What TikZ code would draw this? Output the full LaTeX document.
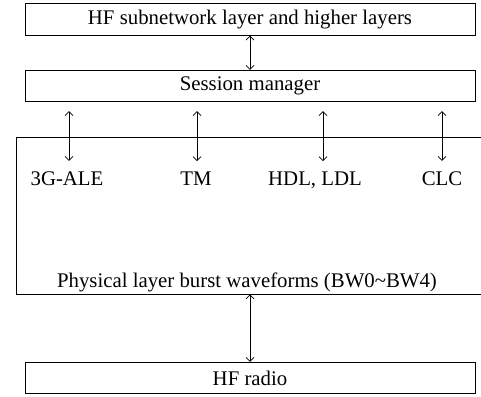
\documentclass[tikz,border=0pt]{standalone}
\usepackage{fontspec}
\setmainfont{Liberation Serif}
\usetikzlibrary{arrows.meta}
\tikzstyle{layer}=[draw, minimum width=450, minimum height=31.5, inner sep=0]
\tikzstyle{proto}=[inner sep=0, anchor=base]
\tikzstyle{twoway}=[{Straight Barb[length=4,width=8]}-{Straight Barb[length=4,width=8]}]

\begin{document}
\begin{tikzpicture}[x=1pt, y=-1pt, line width=0.7pt, font=\fontsize{20.8}{24}\selectfont]
\useasboundingbox (0,0) rectangle (481,396);
% Layers
    \node[layer] (upper) at (250,19.5) {HF subnetwork layer and higher layers};
    \node[layer] (sm) at (250,86) {Session manager};
    \node[draw, minimum width=476, minimum height=157, inner sep=0] (phy) at (254,215.5) {};
    \node[proto] (phytxt) at (247,287) {Physical layer burst waveforms (BW0\char`\~BW4)};
    \node[layer] (radio) at (250,378) {HF radio};
% Protocols
    \node[proto] (ale) at (67,185) {3G-ALE};
    \node[proto] (tm) at (196,185) {TM};
    \node[proto] (dl) at (315,185) {HDL, LDL};
    \node[proto] (clc) at (442,185) {CLC};
% Arrows
    \draw[twoway] (upper) -- (sm);
    \foreach \p/\dx in {ale/2, tm/1, dl/8, clc/0}
        \draw[twoway, shorten <=9, shorten >=10] ([xshift=\dx]sm.south -| \p.north) -- ([xshift=\dx]\p.north);
    \draw[twoway] (phy.south -| radio.north) -- (radio.north);
\end{tikzpicture}
\end{document}
